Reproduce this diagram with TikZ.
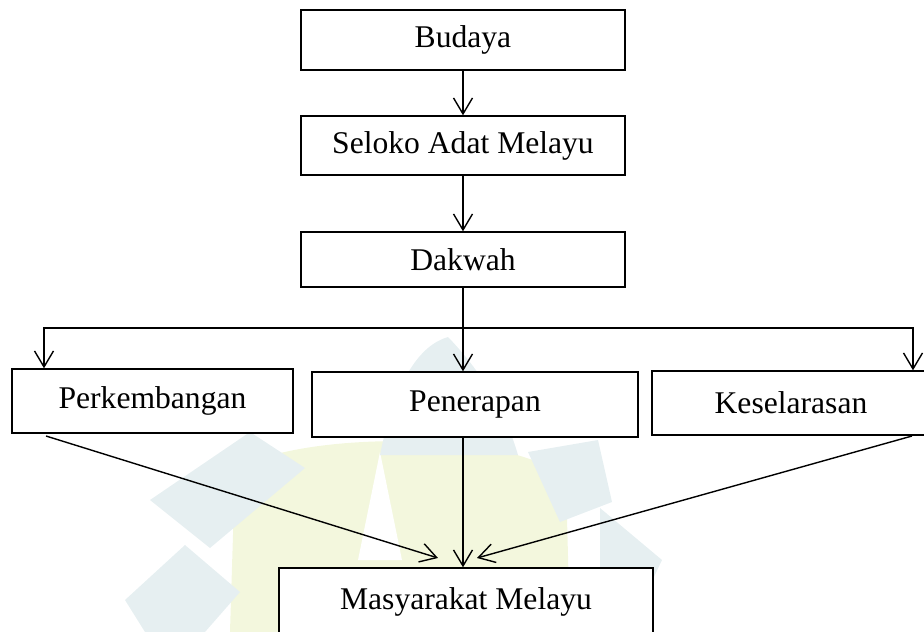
\documentclass[tikz,border=0pt]{standalone}
\usepackage{fontspec}
\setmainfont{Liberation Serif}
\usetikzlibrary{arrows.meta}
\definecolor{wmteal}{HTML}{E6EFF1}
\definecolor{wmyellow}{HTML}{F3F7DD}
\begin{document}
\begin{tikzpicture}[x=1pt,y=-1pt,
  box/.style={draw,line width=1.4pt,rectangle,inner sep=0pt,fill=white,
    font=\fontsize{31.6}{36}\selectfont},
  link/.style={line width=1.4pt},
  arr/.style={link,-{Straight Barb[length=16pt,width=19pt,line width=1.4pt]}}]
\useasboundingbox (0,0) rectangle (924,632);
\clip (0,0) rectangle (924,632);
% faint watermark
\fill[wmyellow] (235,470) .. controls (300,430) and (520,430) .. (566,480)
  -- (570,632) -- (230,632) -- cycle;
\fill[white] (380,452) -- (402,560) -- (358,560) -- cycle;
\fill[wmteal] (380,455) .. controls (395,380) and (420,345) .. (448,337)
  .. controls (480,370) and (505,410) .. (518,455) -- cycle;
\fill[wmteal] (150,500) -- (250,432) -- (305,468) -- (210,548) -- cycle;
\fill[wmteal] (125,600) -- (185,545) -- (240,592) -- (205,632) -- (145,632) -- cycle;
\fill[wmteal] (528,452) -- (598,440) -- (612,502) -- (560,522) -- cycle;
\fill[wmteal] (600,508) -- (662,560) -- (642,602) -- (600,572) -- cycle;
% boxes
\node[box,minimum width=324pt,minimum height=60pt] (bud) at (463,40) {Budaya};
\node[box,minimum width=324pt,minimum height=59pt] (sel) at (463,145.5) {Seloko Adat Melayu};
\node[box,minimum width=324pt,minimum height=55pt] (dak) at (463,259.5) {Dakwah};
\node[box,minimum width=281pt,minimum height=64pt] (per) at (152.5,401) {Perkembangan};
\node[box,minimum width=326pt,minimum height=65pt] (pen) at (475,404.5) {Penerapan};
\node[box,minimum width=278pt,minimum height=64pt] (kes) at (791,403) {Keselarasan};
\node[box,minimum width=374pt,minimum height=68pt] (mas) at (466,602) {Masyarakat Melayu};
% connectors
\draw[arr] (bud.south) -- (sel.north);
\draw[arr] (sel.south) -- (dak.north);
\coordinate (jm) at (dak.south |- 0,328);
\coordinate (jl) at (44,328);
\coordinate (jr) at (913,328);
\draw[arr] (jm) -- (jl) -- (jl |- per.north);
\draw[arr] (jm) -- (jr) -- (jr |- kes.north);
\draw[arr] (dak.south) -- (dak.south |- pen.north);
\coordinate (ps) at (46,436);
\coordinate (pt) at (438,558);
\coordinate (ks) at (912,436);
\coordinate (kt) at (477,558);
\draw[arr] (ps) -- (pt);
\draw[arr] (pen.south -| dak.south) -- (dak.south |- mas.north);
\draw[arr] (ks) -- (kt);
\end{tikzpicture}
\end{document}
